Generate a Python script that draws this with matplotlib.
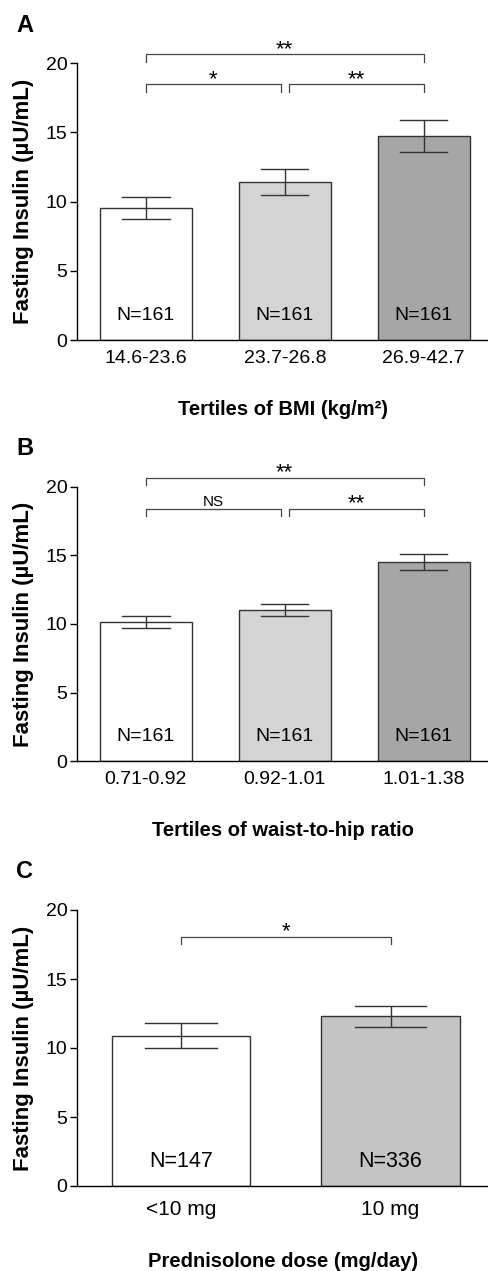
import matplotlib
matplotlib.use('AGG')
import matplotlib.pyplot as plt

plt.rcParams['font.family'] = ['Liberation Sans', 'DejaVu Sans']

# data
bmi_labels = ['14.6-23.6', '23.7-26.8', '26.9-42.7']
bmi_means = [9.55, 11.4, 14.7]
bmi_err = [0.8, 0.92, 1.15]
bmi_n = [161, 161, 161]

whr_labels = ['0.71-0.92', '0.92-1.01', '1.01-1.38']
whr_means = [10.15, 11.0, 14.5]
whr_err = [0.45, 0.43, 0.6]
whr_n = [161, 161, 161]

dose_labels = ['<10 mg', '10 mg']
dose_means = [10.9, 12.3]
dose_err = [0.93, 0.75]
dose_n = [147, 336]

# brackets: (left bar, right bar, y, label)
bmi_sig = [(0, 2, 20.65, '**'), (0, 0.97, 18.45, '*'), (1.03, 2, 18.45, '**')]
whr_sig = [(0, 2, 20.65, '**'), (0, 0.97, 18.4, 'NS'), (1.03, 2, 18.4, '**')]
dose_sig = [(0, 1, 18.05, '*')]

W, H = 489, 1271
fig = plt.figure(figsize=(W / 100, H / 100), dpi=100)


def panel(top_px, bot_px, letter, labels, means, errs, ns, colors, sig, xlabel,
          n_y, n_size, xt_size, xt_pad):
    ax = fig.add_axes([77 / W, 1 - bot_px / H, (W - 77) / W, (bot_px - top_px) / H])
    x = list(range(len(labels)))
    ax.bar(x, means, width=0.66, color=colors, edgecolor='#333333', linewidth=1.0, zorder=2)
    ax.errorbar(x, means, yerr=errs, fmt='none', ecolor='#333333', elinewidth=1.0,
                capsize=0, zorder=3)
    for xi, m, e in zip(x, means, errs):
        for yy in (m - e, m + e):
            ax.plot([xi - 0.17, xi + 0.17], [yy, yy], color='#333333', lw=1.0, zorder=3)
    for xi, n in zip(x, ns):
        ax.text(xi, n_y, f'N={n}', ha='center', va='center', fontsize=n_size, zorder=4)
    for a, b, y, lab in sig:
        ax.plot([a, a, b, b], [y - 0.55, y, y, y - 0.55], color='#444444', lw=0.9,
                clip_on=False)
        if lab == 'NS':
            ax.text((a + b) / 2, y + 0.22, lab, ha='center', va='baseline', fontsize=11)
        else:
            ax.text((a + b) / 2, y - 0.05, lab, ha='center', va='baseline', fontsize=16)
    ax.set_ylim(0, 20)
    ax.set_yticks([0, 5, 10, 15, 20])
    ax.set_xlim(-0.496, len(labels) - 1 + 0.47)
    ax.set_xticks(x)
    ax.set_xticklabels(labels, fontsize=xt_size)
    ax.tick_params(axis='x', length=0, pad=xt_pad)
    ax.tick_params(axis='y', labelsize=14, length=5, width=1.0, pad=2)
    for s in ['top', 'right']:
        ax.spines[s].set_visible(False)
    ax.spines['left'].set_linewidth(1.0)
    ax.spines['bottom'].set_linewidth(1.0)
    ax.set_ylabel('Fasting Insulin (µU/mL)', fontsize=16, fontweight='bold', labelpad=8)
    ax.set_xlabel(xlabel, fontsize=14.5, fontweight='bold', labelpad=24)
    fig.text(16 / W, 1 - (top_px - 38) / H, letter, fontsize=17, fontweight='bold',
             va='center', ha='left')
    return ax


panel(63, 340, 'A', bmi_labels, bmi_means, bmi_err, bmi_n,
      ['white', '#d4d4d4', '#a6a6a6'], bmi_sig, 'Tertiles of BMI (kg/m²)', 1.8, 14, 14, 7)
panel(486.7, 761.3, 'B', whr_labels, whr_means, whr_err, whr_n,
      ['white', '#d4d4d4', '#a6a6a6'], whr_sig, 'Tertiles of waist-to-hip ratio', 1.8, 14, 14, 7)
panel(910, 1186, 'C', dose_labels, dose_means, dose_err, dose_n,
      ['white', '#c4c4c4'], dose_sig, 'Prednisolone dose (mg/day)', 1.8, 15.5, 15, 10)

fig.savefig('out.png', dpi=100)
